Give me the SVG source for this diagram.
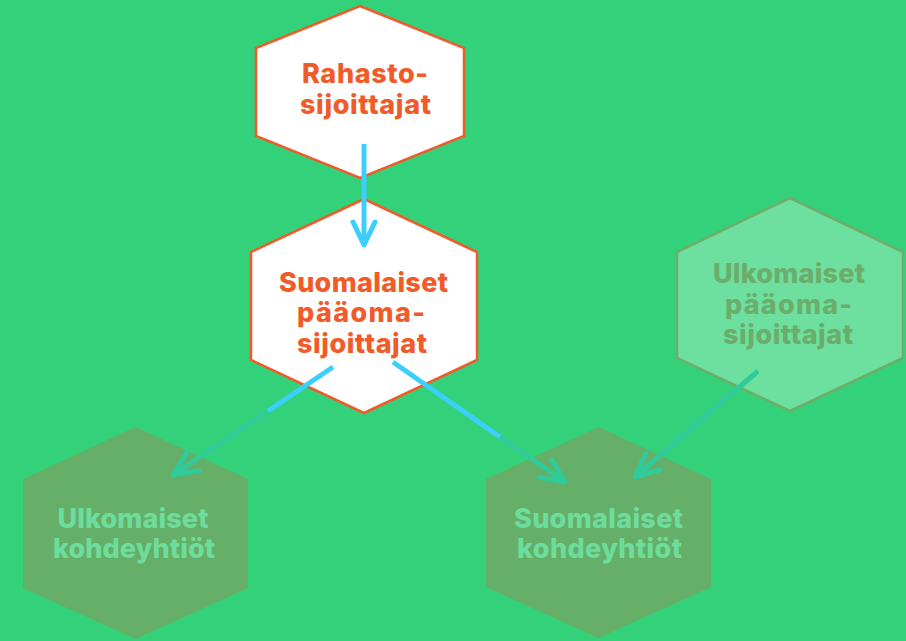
<svg xmlns="http://www.w3.org/2000/svg" width="906" height="641" viewBox="0 0 906 641">
<defs>
<style>
.t{font-family:Inter,"Open Sans","Liberation Sans",sans-serif;font-weight:800;font-size:27px;text-anchor:middle}
.hot{fill:#ffffff;stroke:#f15a29;stroke-width:2.5}
.hott{fill:#f15a29}
.lt{fill:#6ddf9f;stroke:#6eae6c;stroke-width:2.5}
.ltt{fill:#6bae6b}
.dk{fill:#66af68}
.dkt{fill:#6cdd9d}
.ln{fill:none;stroke-width:5}
.blue{stroke:#3ccffd}
.teal{stroke:#30cb9b}
</style>
<marker id="ahB" markerUnits="userSpaceOnUse" orient="auto" refX="0" refY="0" markerWidth="40" markerHeight="40" overflow="visible">
<path d="M-23,-11 L0,0 L-23,11" fill="none" stroke="#3ccffd" stroke-width="5" stroke-linecap="round" stroke-linejoin="round"/>
</marker>
<marker id="ahT" markerUnits="userSpaceOnUse" orient="auto" refX="0" refY="0" markerWidth="40" markerHeight="40" overflow="visible">
<path d="M-24,-11 L0,0 L-24,11" fill="none" stroke="#30cb9b" stroke-width="5" stroke-linecap="round" stroke-linejoin="round"/>
</marker>
</defs>
<rect width="906" height="641" fill="#34d17b"/>

<g id="node-rahastosijoittajat">
<polygon class="hot" points="360,6 464,48 464,136 360,178 256,136 256,48"/>
<text class="t hott" x="365" y="83" textLength="126">Rahasto-</text>
<text class="t hott" x="365.5" y="114" textLength="131">sijoittajat</text>
</g>

<g id="node-suomalaiset-paaomasijoittajat">
<polygon class="hot" points="364,199 477,252 477,360 364,413 251,360 251,252"/>
<text class="t hott" x="363.5" y="292" textLength="169">Suomalaiset</text>
<text class="t hott" x="361" y="322" textLength="128">pääoma-</text>
<text class="t hott" x="362" y="353" textLength="130">sijoittajat</text>
</g>

<g id="node-ulkomaiset-paaomasijoittajat">
<polygon class="lt" points="790,198 903,252 903,358 790,411 677,358 677,252"/>
<text class="t ltt" x="789" y="283" textLength="152">Ulkomaiset</text>
<text class="t ltt" x="788.5" y="314" textLength="127">pääoma-</text>
<text class="t ltt" x="788" y="344" textLength="130">sijoittajat</text>
</g>

<g id="node-ulkomaiset-kohdeyhtiot">
<polygon class="dk" points="135.5,427 248,479 248,588 135.5,639 23,588 23,479"/>
<text class="t dkt" x="133" y="528" textLength="151">Ulkomaiset</text>
<text class="t dkt" x="134" y="558" textLength="162">kohdeyhtiöt</text>
</g>

<g id="node-suomalaiset-kohdeyhtiot">
<polygon class="dk" points="598.5,427 711,479 711,587 598.5,638 486,587 486,479"/>
<text class="t dkt" x="598.5" y="528" textLength="169">Suomalaiset</text>
<text class="t dkt" x="599.5" y="558" textLength="165">kohdeyhtiöt</text>
</g>

<g id="connectors">
<line class="ln blue" x1="364" y1="144" x2="364" y2="245" marker-end="url(#ahB)"/>
<line class="ln blue" x1="333" y1="367" x2="268" y2="411"/>
<line class="ln teal" x1="268" y1="411" x2="173" y2="475" marker-end="url(#ahT)"/>
<line class="ln blue" x1="393" y1="362" x2="500" y2="437"/>
<line class="ln teal" x1="500" y1="437" x2="565" y2="482" marker-end="url(#ahT)"/>
<line class="ln teal" x1="758" y1="371" x2="635" y2="477" marker-end="url(#ahT)"/>
</g>
</svg>
